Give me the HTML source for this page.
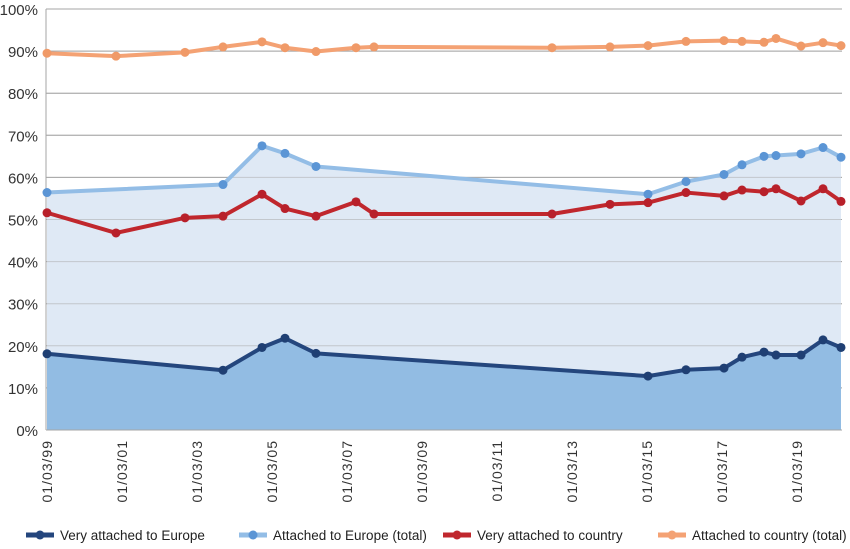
<!DOCTYPE html>
<html><head><meta charset="utf-8"><style>
body{margin:0;background:#fff;width:850px;height:544px;overflow:hidden;font-family:"Liberation Sans",sans-serif}
</style></head><body>
<svg id="s" width="850" height="544" xmlns="http://www.w3.org/2000/svg"></svg>
<script>
const s=document.getElementById('s');
const Y=v=>430-v*4.21;
let h='';
for(let i=0;i<=10;i++){const y=Y(i*10);
 h+=`<line x1="46" x2="842" y1="${y}" y2="${y}" stroke="#a6a6a6" stroke-width="1"/>`;
 h+=`<text x="38" y="${y+6}" text-anchor="end" font-size="15" fill="#333">${i*10}%</text>`;}
h+=`<line x1="46" x2="46" y1="9" y2="430" stroke="#a6a6a6"/>`;
const O=[[47,89.5],[116,88.8],[185,89.7],[223,91],[262,92.2],[285,90.8],[316,89.9],[356,90.8],[374,91],[552,90.8],[610,91],[648,91.3],[686,92.3],[724,92.5],[742,92.3],[764,92.1],[776,93],[801,91.2],[823,92],[841,91.3]];
const L=[[47,56.4],[223,58.3],[262,67.5],[285,65.7],[316,62.6],[648,56],[686,59],[724,60.7],[742,63],[764,65],[776,65.2],[801,65.6],[823,67.1],[841,64.8]];
const R=[[47,51.6],[116,46.8],[185,50.4],[223,50.8],[262,56],[285,52.6],[316,50.8],[356,54.2],[374,51.3],[552,51.3],[610,53.6],[648,54],[686,56.4],[724,55.6],[742,57],[764,56.6],[776,57.3],[801,54.4],[823,57.3],[841,54.3]];
const D=[[47,18.1],[223,14.2],[262,19.6],[285,21.8],[316,18.2],[648,12.8],[686,14.3],[724,14.7],[742,17.3],[764,18.5],[776,17.8],[801,17.8],[823,21.4],[841,19.6]];
const pts=a=>a.map(p=>p[0]+','+Y(p[1])).join(' ');
const area=(a,c)=>`<polygon points="47,430 ${pts(a)} 841,430" fill="${c}"/>`;
h+=area(L,'#dfe9f5');
for(let i=0;i<=10;i++){const y=Y(i*10);h+=`<line x1="46" x2="842" y1="${y}" y2="${y}" stroke="#a6a6a6" stroke-opacity="0.5"/>`;}
h+=area(D,'#92bce3');
const line=(a,c,m)=>{let r=`<polyline points="${pts(a)}" fill="none" stroke="${c}" stroke-width="4" stroke-linejoin="round"/>`;
 a.forEach(p=>r+=`<circle cx="${p[0]}" cy="${Y(p[1])}" r="4.5" fill="${m}"/>`);return r;};
h+=line(L,'#93bde6','#5b95d5');
h+=line(O,'#f4a274','#f09a68');
h+=line(R,'#c0272d','#b8202a');
h+=line(D,'#24467d','#1f3f73');
h+=`<line x1="46" x2="842" y1="430" y2="430" stroke="#a6a6a6"/>`;
const labs=['99','01','03','05','07','09','11','13','15','17','19'];
labs.forEach((l,i)=>{const x=47+i*75;
 h+=`<text transform="translate(${x+5},440) rotate(-90)" text-anchor="end" font-size="14" fill="#333" letter-spacing="1">01/03/${l}</text>`;});
const leg=[[26,'#24467d','Very attached to Europe'],[239,'#93bde6','Attached to Europe (total)',"#5b95d5"],[443,'#c0272d','Very attached to country'],[658,'#f4a274','Attached to country (total)']];
leg.forEach(g=>{h+=`<line x1="${g[0]}" x2="${g[0]+28}" y1="535" y2="535" stroke="${g[1]}" stroke-width="5"/><circle cx="${g[0]+14}" cy="535" r="4.5" fill="${g[3]||g[1]}"/>`;
 h+=`<text x="${g[0]+34}" y="540" font-size="13.5" fill="#222">${g[2]}</text>`;});
s.innerHTML=h;
</script>
</body></html>
